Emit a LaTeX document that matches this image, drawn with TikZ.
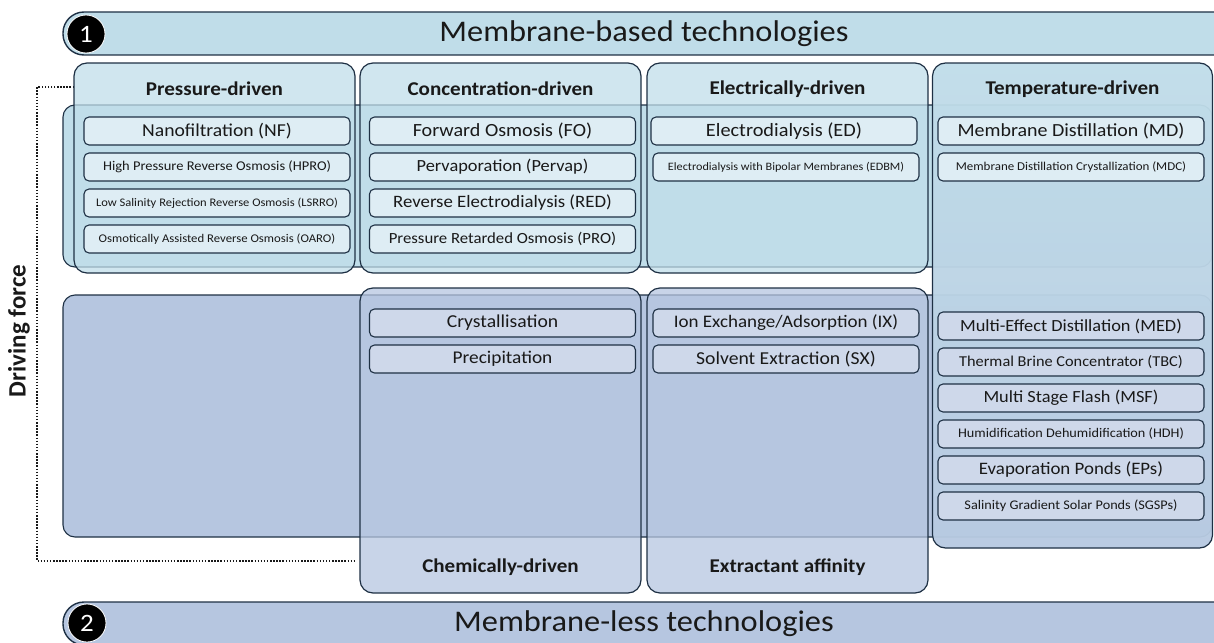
\documentclass[tikz,border=0pt]{standalone}
\usepackage{fontspec}
\setmainfont{Carlito}[FakeStretch=1.08]
\newfontfamily\calibrifont{Carlito}

\definecolor{memfill}{RGB}{192,221,233}
\definecolor{memitem}{RGB}{222,237,244}
\definecolor{lessfill}{RGB}{182,198,224}
\definecolor{lessitem}{RGB}{206,216,234}
\definecolor{edgeblue}{RGB}{30,48,68}
\definecolor{txt}{RGB}{25,25,25}

\newcommand{\fsz}[1]{\fontsize{#1}{#1}\selectfont}

\begin{document}
\begin{tikzpicture}[x=1pt, y=-1pt, every node/.style={text=txt, inner sep=0pt}]

    % Styles
    \tikzstyle{banner_mem} = [fill=memfill, draw=edgeblue, line width=1.4pt, rounded corners=21pt,
        minimum width=1190pt, minimum height=43pt]
    \tikzstyle{banner_less} = [banner_mem, fill=lessfill]
    \tikzstyle{num_dot} = [circle, fill=black, draw=white, line width=0.8pt, minimum size=38pt,
        text=white, font=\fsz{25}]
    \tikzstyle{band_mem} = [fill=memfill, draw=edgeblue, line width=1.1pt, rounded corners=12pt,
        minimum width=1149pt, minimum height=162pt]
    \tikzstyle{band_less} = [band_mem, fill=lessfill, minimum height=242pt]
    \tikzstyle{col_mem} = [fill=memfill, fill opacity=0.75, text opacity=1, draw=edgeblue,
        line width=1.2pt, rounded corners=13pt, minimum width=281pt, minimum height=210pt]
    \tikzstyle{col_less} = [col_mem, fill=lessfill, minimum height=305pt]
    \tikzstyle{col_temp} = [col_mem, top color=memfill, bottom color=lessfill, fill opacity=0.8,
        minimum width=280pt, minimum height=485pt]
    \tikzstyle{item_mem} = [fill=memitem, draw=edgeblue, line width=1.1pt, rounded corners=5pt,
        minimum width=266pt, minimum height=28pt]
    \tikzstyle{item_less} = [item_mem, fill=lessitem]
    \tikzstyle{head} = [font=\bfseries\fsz{19.5}]
    \tikzstyle{dotline} = [line width=2pt, dash pattern=on 1.5pt off 1.6pt, black!90]

    \clip (0,0) rectangle (1214,642);

    % Column x positions (centres)
    \def\colone{214.5}
    \def\coltwo{500.5}
    \def\colthree{787.5}
    \def\colfour{1072.5}

    % Banners
    \node[banner_mem] (topbar) at (658, 33.5) {};
    \node[font=\fsz{30}] (toptext) at (644, 34) {Membrane-based technologies};
    \node[num_dot] (one) at (86, 34) {1};

    \node[banner_less] (botbar) at (658, 623.5) {};
    \node[font=\fsz{30}] (bottext) at (644, 624) {Membrane-less technologies};
    \node[num_dot] (two) at (87, 623) {2};

    % Background bands
    \node[band_mem] (memband) at (637.5, 186) {};
    \node[band_less] (lessband) at (637.5, 416) {};

    % Driving force bracket
    \node[rotate=90, font=\calibrifont\bfseries\fsz{25}] (drive) at (19, 331) {Driving force};
    \coordinate (dftop) at (74, 87);
    \coordinate (dfcorner) at (37, 87);
    \coordinate (dfend) at (356, 561);
    \draw[dotline] (dftop) -- (dfcorner) |- (dfend);

    % Membrane-based columns
    \node[col_mem] (pres) at (\colone, 168) {};
    \node[col_mem] (conc) at (\coltwo, 168) {};
    \node[col_mem] (elec) at (\colthree, 168) {};
    \node[col_temp] (temp) at (\colfour, 305.5) {};

    % Membrane-less columns
    \node[col_less] (chem) at (\coltwo, 440.5) {};
    \node[col_less] (extr) at (\colthree, 440.5) {};

    % Column headers
    \node[head] (preshead) at (\colone, 89) {Pressure-driven};
    \node[head] (conchead) at (\coltwo, 89) {Concentration-driven};
    \node[head] (elechead) at (\colthree, 89) {Electrically-driven};
    \node[head] (temphead) at (\colfour, 89) {Temperature-driven};
    \node[head] (chemhead) at (\coltwo, 567) {Chemically-driven};
    \node[head] (extrhead) at (\colthree, 567) {Extractant affinity};

    % Pressure-driven
    \node[item_mem, font=\fsz{18.2}] (nf) at (217, 131) {Nanofiltration (NF)};
    \node[item_mem, font=\fsz{13.4}] (hpro) at (217, 167) {High Pressure Reverse Osmosis (HPRO)};
    \node[item_mem, font=\fsz{11.6}] (lsrro) at (217, 203) {Low Salinity Rejection Reverse Osmosis (LSRRO)};
    \node[item_mem, font=\fsz{11.8}] (oaro) at (217, 239) {Osmotically Assisted Reverse Osmosis (OARO)};

    % Concentration-driven
    \node[item_mem, font=\fsz{18.6}] (fo) at (502.5, 131) {Forward Osmosis (FO)};
    \node[item_mem, font=\fsz{17}] (pervap) at (502.5, 167) {Pervaporation (Pervap)};
    \node[item_mem, font=\fsz{17.4}] (red) at (502.5, 203) {Reverse Electrodialysis (RED)};
    \node[item_mem, font=\fsz{15.5}] (pro) at (502.5, 239) {Pressure Retarded Osmosis (PRO)};

    % Electrically-driven
    \node[item_mem, font=\fsz{18.8}] (ed) at (784, 131) {Electrodialysis (ED)};
    \node[item_mem, font=\fsz{11.3}] (edbm) at (786, 167) {Electrodialysis with Bipolar Membranes (EDBM)};

    % Temperature-driven
    \node[item_mem, font=\fsz{18.5}] (md) at (1071, 131) {Membrane Distillation (MD)};
    \node[item_mem, font=\fsz{12}] (mdc) at (1071, 167) {Membrane Distillation Crystallization (MDC)};
    \node[item_less, font=\fsz{17}] (med) at (1071, 326) {Multi-Effect Distillation (MED)};
    \node[item_less, font=\fsz{15.1}] (tbc) at (1071, 362) {Thermal Brine Concentrator (TBC)};
    \node[item_less, font=\fsz{17}] (msf) at (1071, 398) {Multi Stage Flash (MSF)};
    \node[item_less, font=\fsz{13.2}] (hdh) at (1071, 434) {Humidification Dehumidification (HDH)};
    \node[item_less, font=\fsz{17.5}] (eps) at (1071, 470) {Evaporation Ponds (EPs)};
    \node[item_less, font=\fsz{13.2}] (sgsp) at (1071, 506) {Salinity Gradient Solar Ponds (SGSPs)};

    % Chemically-driven
    \node[item_less, font=\fsz{18.2}] (cryst) at (502.5, 323) {Crystallisation};
    \node[item_less, font=\fsz{17.9}] (precip) at (502.5, 359) {Precipitation};

    % Extractant affinity
    \node[item_less, font=\fsz{17.6}] (ix) at (786, 323) {Ion Exchange/Adsorption (IX)};
    \node[item_less, font=\fsz{18.2}] (sx) at (786, 359) {Solvent Extraction (SX)};

\end{tikzpicture}
\end{document}
